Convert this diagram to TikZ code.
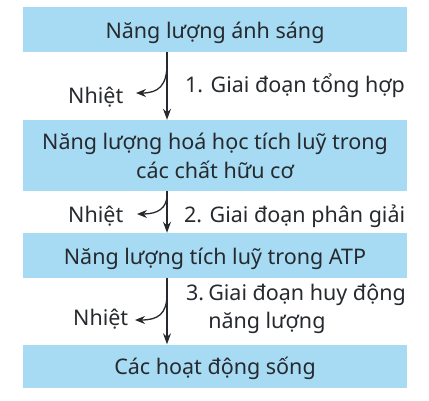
\documentclass[tikz,border=0pt]{standalone}
\usepackage{fontspec}
\setmainfont{Noto Sans}
\usetikzlibrary{arrows.meta}
\definecolor{boxblue}{HTML}{A6DBF3}
\definecolor{txt}{HTML}{262A2E}
\begin{document}
\begin{tikzpicture}[x=1pt,y=-1pt,
  every node/.style={text=txt},
  box/.style={fill=boxblue, draw=none, minimum width=384pt, inner sep=0pt,
    align=center, font=\fontsize{21.5}{29}\selectfont},
  onebox/.style={box, minimum height=45pt, text height=17pt, text depth=0pt},
  lbl/.style={inner sep=0pt, font=\fontsize{21.5}{28}\selectfont},
  arr/.style={draw=txt, line width=1.3pt, -{Stealth[length=11pt,width=8pt]}},
  side/.style={draw=txt, line width=1.3pt, -{Stealth[length=10pt,width=8pt]}}]
\useasboundingbox (0,0) rectangle (429,400);
% boxes
\node[onebox] (b1) at (215,29.5) {Năng lượng ánh sáng};
\node[box, minimum height=71pt] (b2) at (215,155.5) {Năng lượng hoá học tích luỹ trong\\các chất hữu cơ};
\node[onebox] (b3) at (215,255.5) {Năng lượng tích luỹ trong ATP};
\node[onebox, minimum height=43pt] (b4) at (215,366) {Các hoạt động sống};
% axis of the main arrows
\coordinate (ax) at (167,0);
\draw[arr] (b1.south -| ax) -- (b2.north -| ax);
\draw[arr] (b2.south -| ax) -- (b3.north -| ax);
\draw[arr] (b3.south -| ax) -- (b4.north -| ax);
% heat branches
\coordinate (s1) at (167,64);  \coordinate (t1) at (136,93);
\coordinate (s2) at (167,195); \coordinate (t2) at (137,214);
\coordinate (s3) at (167,294); \coordinate (t3) at (135,320);
\draw[side] (s1) .. controls (167,86) and (158,93) .. (t1);
\draw[side] (s2) .. controls (167,208) and (158,214) .. (t2);
\draw[side] (s3) .. controls (167,314) and (158,320) .. (t3);
\node[lbl, anchor=base west] (n1) at (68,103) {Nhiệt};
\node[lbl, anchor=base west] (n2) at (68,222) {Nhiệt};
\node[lbl, anchor=base west] (n3) at (73,325) {Nhiệt};
% stage labels
\node[lbl, anchor=base west] (g1) at (185,92) {1. Giai đoạn tổng hợp};
\node[lbl, anchor=base west] (g2) at (184,222) {2. Giai đoạn phân giải};
\node[lbl, anchor=north west] (g3) at (186,281) {\begin{tabular}{@{}l@{\hspace{4pt}}l@{}}3.&Giai đoạn huy động\\&năng lượng\end{tabular}};
\end{tikzpicture}
\end{document}
